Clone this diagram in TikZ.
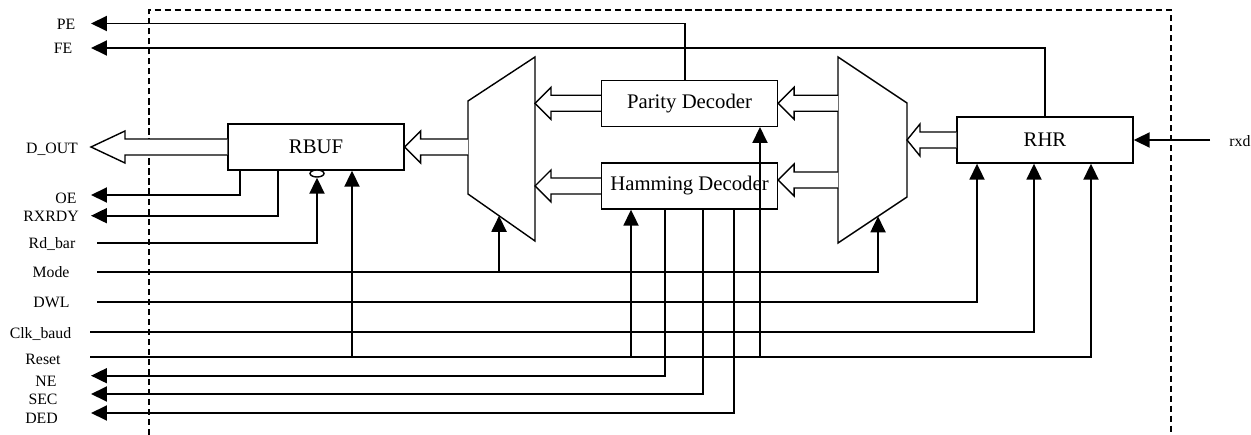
\documentclass[tikz,border=0pt]{standalone}
\usepackage{fontspec}
\setmainfont{Liberation Serif}
\usetikzlibrary{arrows.meta,calc,shapes.geometric}
\newcommand{\busarrow}[3]{%
  \draw[bus] let \p1=#1, \p2=#2 in
    ({\x1},{\y1+0.16cm}) -- ({\x2+#3},{\y1+0.16cm}) -- ({\x2+#3},{\y1+0.32cm})
    -- ({\x2},{\y1}) -- ({\x2+#3},{\y1-0.32cm}) -- ({\x2+#3},{\y1-0.16cm}) -- ({\x1},{\y1-0.16cm});}

\begin{document}
\begin{tikzpicture}[x=0.02cm,y=-0.02cm,
    block/.style={rectangle,draw,line width=0.8pt,minimum width=3.52cm,minimum height=0.92cm,font=\fontsize{11.8}{14}\selectfont},
    pinlabel/.style={inner sep=0pt,text height=6.2pt,text depth=0pt,font=\fontsize{9}{11}\selectfont},
    sig/.style={line width=1.1pt},
    outsig/.style={sig,{Triangle[length=3.2mm,width=3mm]}-},
    insig/.style={sig,-{Triangle[length=3.2mm,width=3mm]}},
    bus/.style={line width=0.8pt,fill=white},
    mux/.style={line width=0.8pt},
    frame/.style={line width=0.9pt,dash pattern=on 3.5pt off 2.2pt}
]
\useasboundingbox (0,0) rectangle (1251,435);
\draw[frame] (149,435) -- (149,10) -- (1171,10) -- (1171,435);

\foreach \name/\txt/\lx/\ly/\ex/\ey in {pe/PE/66/24/91/23.5, fe/FE/63/48/91/48,
    dout/D\_OUT/52/148/91/147, oe/OE/66/198/91/195, rxrdy/RXRDY/51/216/91/215.7,
    rdbar/Rd\_bar/52/243/97/243, mode/Mode/51/272/97/271.7, dwl/DWL/51.5/302/97/301.7,
    clk/Clk\_baud/40.5/333/90/332, reset/Reset/43/359/90/357,
    ne/NE/46/381/91/375.7, sec/SEC/43/399/91/394, ded/DED/41.5/418/91/413}{
  \node[pinlabel] (\name) at (\lx,\ly) {\txt};
  \coordinate (\name-end) at (\ex,\ey);
}

\node[block] (rbuf) at (316,147) {RBUF};
\node[block] (parity) at (689.5,103.3) {Parity Decoder};
\node[block] (hamming) at (689.5,186) {Hamming Decoder};
\node[block] (rhr) at (1045,140) {RHR};
\node[pinlabel,anchor=west] (rxd) at (1229,141) {rxd};
\coordinate (rxd-end) at (1210,140);

\coordinate (lmux-a) at (468,101);
\coordinate (lmux-b) at (535,57);
\coordinate (lmux-c) at (535,241);
\coordinate (lmux-d) at (468,194);
\coordinate (rmux-a) at (838,57);
\coordinate (rmux-b) at (907,103);
\coordinate (rmux-c) at (907,197);
\coordinate (rmux-d) at (838,243);
\draw[mux] (lmux-a) -- (lmux-b) -- (lmux-c) -- (lmux-d) -- cycle;
\draw[mux] (rmux-a) -- (rmux-b) -- (rmux-c) -- (rmux-d) -- cycle;
\coordinate (lmux-sel) at ($(lmux-d)!0.463!(lmux-c)$);
\coordinate (rmux-sel) at ($(rmux-d)!0.58!(rmux-c)$);
\coordinate (lmux-out) at (468,147);
\coordinate (ham-in) at ([yshift=0.12cm]hamming.east);

\busarrow{(rbuf.west)}{(dout-end)}{0.68cm}
\busarrow{(lmux-out)}{(rbuf.east)}{0.32cm}
\busarrow{(parity.west)}{(lmux-b |- parity.west)}{0.32cm}
\busarrow{(hamming.west)}{(lmux-b |- hamming.west)}{0.32cm}
\busarrow{(rmux-a |- parity.east)}{(parity.east)}{0.32cm}
\busarrow{(rmux-a |- ham-in)}{(ham-in)}{0.32cm}
\busarrow{(rhr.west)}{(rmux-b |- rhr.west)}{0.26cm}

\node[ellipse,draw,line width=0.8pt,minimum width=0.28cm,minimum height=0.14cm,inner sep=0pt,fill=white] (bubble) at (317,173.5) {};

\draw[outsig] (pe-end) -| ([xshift=-0.09cm]parity.north);
\draw[outsig] (fe-end) -| (rhr.north);
\draw[outsig] (oe-end) -| ([xshift=0.26cm]rbuf.south west);
\draw[outsig] (rxrdy-end) -| ([xshift=1.02cm]rbuf.south west);
\draw[insig] (rdbar-end) -| (bubble.south);
\draw[insig] (mode-end) -| (rmux-sel);
\draw[insig] (lmux-sel |- mode-end) -- (lmux-sel);
\draw[insig] (dwl-end) -| ([xshift=-1.36cm]rhr.south);
\draw[insig] (clk-end) -| ([xshift=-0.22cm]rhr.south);
\draw[insig] (reset-end) -| ([xshift=0.92cm]rhr.south);
\foreach \dx/\blk in {0.72cm/rbuf.south, -1.17cm/hamming.south, 1.41cm/parity.south}
  \draw[insig] ([xshift=\dx]\blk |- reset-end) -- ([xshift=\dx]\blk);
\draw[outsig] (ne-end) -| ([xshift=-0.49cm]hamming.south);
\draw[outsig] (sec-end) -| ([xshift=0.27cm]hamming.south);
\draw[outsig] (ded-end) -| ([xshift=0.89cm]hamming.south);
\draw[insig] (rxd-end) -- (rhr.east);
\end{tikzpicture}
\end{document}
